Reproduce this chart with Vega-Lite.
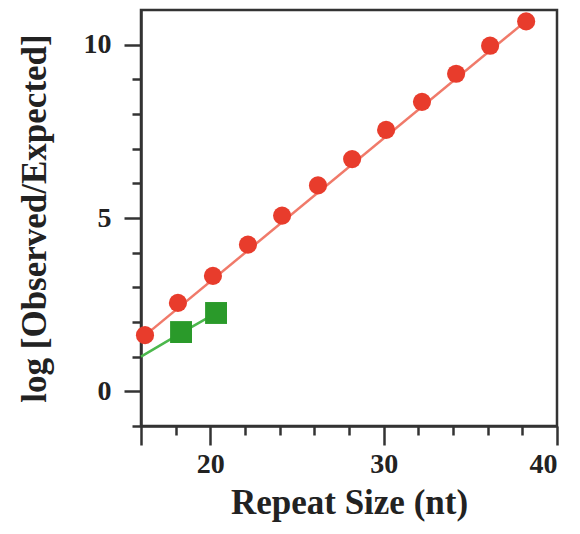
{
  "$schema": "https://vega.github.io/schema/vega-lite/v6.json",
  "width": 416,
  "height": 416,
  "autosize": "none",
  "padding": {"left": 141, "top": 10, "right": 23, "bottom": 108},
  "background": "white",
  "config": {
    "view": {"stroke": "#333", "strokeWidth": 2.5},
    "font": "Liberation Serif",
    "axis": {
      "labelFont": "Liberation Serif",
      "labelFontWeight": "bold",
      "labelFontSize": 28,
      "labelColor": "#222",
      "titleFont": "Liberation Serif",
      "titleFontWeight": "bold",
      "titleFontSize": 35,
      "titleColor": "#222",
      "domainColor": "#333",
      "domainWidth": 2.5,
      "tickColor": "#333",
      "tickWidth": 2.5,
      "grid": false
    }
  },
  "datasets": {
    "fit": [
      {"series": "red", "size": 16.2, "logoe": 1.6},
      {"series": "red", "size": 38.2, "logoe": 10.68}
    ],
    "greenfit": [
      {"series": "green", "size": 16.0, "logoe": 1.0},
      {"series": "green", "size": 18.3, "logoe": 1.68},
      {"series": "green", "size": 20.3, "logoe": 2.25}
    ],
    "red": [
      {"size": 16.23, "logoe": 1.62},
      {"size": 18.13, "logoe": 2.55},
      {"size": 20.15, "logoe": 3.33},
      {"size": 22.17, "logoe": 4.23},
      {"size": 24.14, "logoe": 5.07},
      {"size": 26.21, "logoe": 5.94},
      {"size": 28.18, "logoe": 6.70},
      {"size": 30.14, "logoe": 7.54},
      {"size": 32.21, "logoe": 8.35},
      {"size": 34.18, "logoe": 9.16},
      {"size": 36.14, "logoe": 9.97},
      {"size": 38.22, "logoe": 10.67}
    ],
    "green": [
      {"size": 18.31, "logoe": 1.71},
      {"size": 20.33, "logoe": 2.26}
    ]
  },
  "layer": [
    {
      "data": {"name": "fit"},
      "mark": {"type": "line", "color": "#f07a6a", "strokeWidth": 2.5},
      "encoding": {
        "x": {
          "field": "size", "type": "quantitative",
          "scale": {"domain": [16, 40], "nice": false, "zero": false},
          "axis": {
            "values": [16, 20, 30, 40],
            "labelExpr": "datum.value == 16 ? '' : datum.label",
            "tickSize": 19,
            "labelPadding": 5,
            "title": "Repeat Size (nt)",
            "titlePadding": 7,
            "orient": "bottom"
          }
        },
        "y": {
          "field": "logoe", "type": "quantitative",
          "scale": {"domain": [-1, 11], "nice": false, "zero": false},
          "axis": {
            "values": [0, 5, 10],
            "tickSize": 17,
            "labelPadding": 13,
            "title": "log [Observed/Expected]",
            "titlePadding": 31,
            "orient": "left"
          }
        }
      }
    },
    {
      "data": {"name": "greenfit"},
      "mark": {"type": "line", "color": "#4cb84c", "strokeWidth": 2.5},
      "encoding": {
        "x": {
          "field": "size", "type": "quantitative",
          "scale": {"domain": [16, 40], "nice": false, "zero": false},
          "axis": {
            "values": [18, 22, 24, 26, 28, 32, 34, 36, 38],
            "labels": false, "domain": false, "tickSize": 9,
            "title": null, "orient": "bottom"
          }
        },
        "y": {
          "field": "logoe", "type": "quantitative",
          "scale": {"domain": [-1, 11], "nice": false, "zero": false},
          "axis": {
            "values": [-1, 1, 2, 3, 4, 6, 7, 8, 9],
            "labels": false, "domain": false, "tickSize": 9,
            "title": null, "orient": "left"
          }
        }
      }
    },
    {
      "data": {"name": "red"},
      "mark": {"type": "point", "shape": "circle", "filled": true, "opacity": 1, "color": "#e83c2c", "size": 330},
      "encoding": {
        "x": {"field": "size", "type": "quantitative", "axis": null},
        "y": {"field": "logoe", "type": "quantitative", "axis": null}
      }
    },
    {
      "data": {"name": "green"},
      "mark": {"type": "point", "shape": "square", "filled": true, "opacity": 1, "color": "#2a9a2a", "size": 480},
      "encoding": {
        "x": {"field": "size", "type": "quantitative", "axis": null},
        "y": {"field": "logoe", "type": "quantitative", "axis": null}
      }
    }
  ],
  "resolve": {"axis": {"x": "independent", "y": "independent"}}
}
